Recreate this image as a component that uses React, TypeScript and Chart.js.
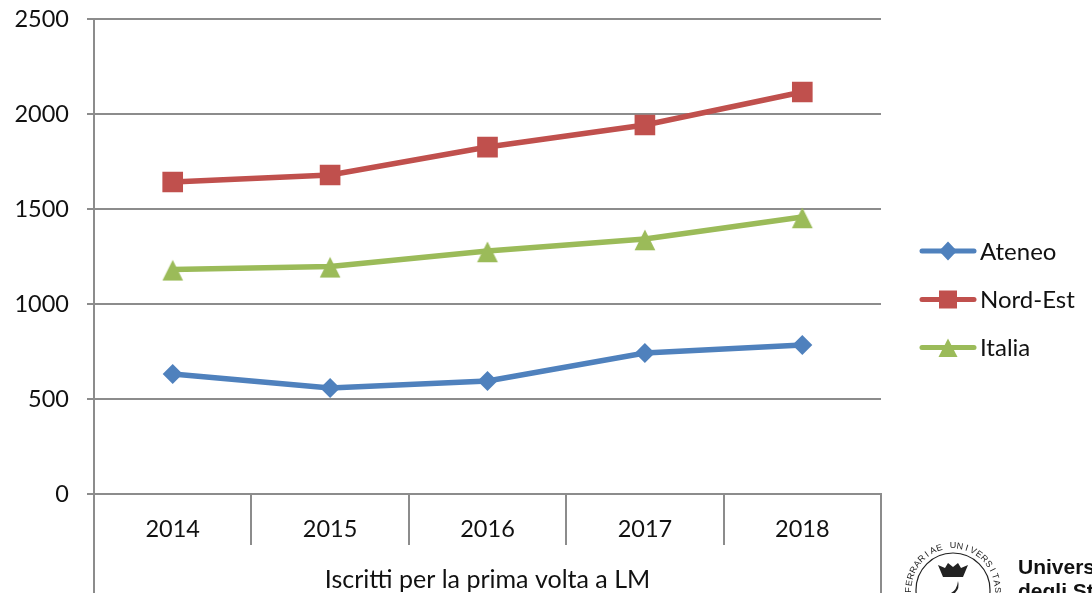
import React, { useEffect, useRef } from "react";
import { Chart, registerables } from "chart.js";

Chart.register(...registerables);

const categories = ["2014", "2015", "2016", "2017", "2018"];
const ateneo = [632, 558, 595, 742, 784];
const nordEst = [1642, 1679, 1826, 1942, 2116];
const italia = [1182, 1198, 1279, 1342, 1458];
const axisTitle = "Iscritti per la prima volta a LM";
const sealText = "FERRARIAE UNIVERSITAS";
const logoLines = ["Università", "degli Studi"];

const FONT = "Lato, 'Open Sans', sans-serif";
const AXIS = "#8c8c8c";
const GREEN = "#9BBB59";

function triangleMarker(color: string) {
  const c = document.createElement("canvas");
  c.width = 24;
  c.height = 24;
  const g = c.getContext("2d")!;
  g.fillStyle = color;
  g.beginPath();
  g.moveTo(12, 2.5);
  g.lineTo(22.4, 23.2);
  g.lineTo(1.6, 23.2);
  g.closePath();
  g.fill();
  return c;
}

const legendAndFrame = {
  id: "legendAndFrame",
  afterDraw(chart: any) {
    const { ctx, chartArea } = chart;
    ctx.save();
    ctx.strokeStyle = AXIS;
    ctx.lineWidth = 2;
    ctx.beginPath();
    ctx.moveTo(chartArea.left, chartArea.top);
    ctx.lineTo(chartArea.left, 593);
    ctx.moveTo(chartArea.right, chartArea.bottom);
    ctx.lineTo(chartArea.right, 593);
    ctx.stroke();

    const rows = [251, 299.5, 347.5];
    chart.data.datasets.forEach((ds: any, i: number) => {
      const y = rows[i];
      ctx.strokeStyle = ds.borderColor;
      ctx.lineWidth = 5;
      ctx.lineCap = "round";
      ctx.beginPath();
      ctx.moveTo(922, y);
      ctx.lineTo(974, y);
      ctx.stroke();
      ctx.fillStyle = ds.borderColor;
      ctx.beginPath();
      if (ds.pointStyle === "rectRot") {
        ctx.moveTo(948, y - 9.5);
        ctx.lineTo(957, y);
        ctx.lineTo(948, y + 9.5);
        ctx.lineTo(939, y);
        ctx.closePath();
      } else if (ds.pointStyle === "rect") {
        ctx.rect(939, y - 9, 18, 18);
      } else {
        ctx.moveTo(948, y - 9);
        ctx.lineTo(957.5, y + 9.5);
        ctx.lineTo(938.5, y + 9.5);
        ctx.closePath();
      }
      ctx.fill();
      ctx.fillStyle = "#111";
      ctx.font = `24px ${FONT}`;
      ctx.textAlign = "left";
      ctx.textBaseline = "middle";
      ctx.fillText(ds.label, 980, y + 1);
    });

    // university seal and wordmark, cut by the bottom of the page
    const cx = 953;
    const cy = 590;
    ctx.strokeStyle = "#222";
    ctx.lineWidth = 1.2;
    ctx.beginPath();
    ctx.arc(cx, cy, 37, 0, Math.PI * 2);
    ctx.stroke();
    ctx.fillStyle = "#222";
    ctx.font = `9px 'Liberation Sans', sans-serif`;
    ctx.textAlign = "center";
    ctx.textBaseline = "middle";
    const chars = sealText.split("");
    const step = Math.PI / 20;
    chars.forEach((ch, i) => {
      const a = -Math.PI / 2 + (i - (chars.length - 1) / 2) * step;
      ctx.save();
      ctx.translate(cx + Math.cos(a) * 44, cy + Math.sin(a) * 44);
      ctx.rotate(a + Math.PI / 2);
      ctx.fillText(ch, 0, 0);
      ctx.restore();
    });
    // crown
    ctx.beginPath();
    ctx.moveTo(938, 565);
    ctx.lineTo(945, 568);
    ctx.lineTo(948, 563);
    ctx.lineTo(953, 567);
    ctx.lineTo(958, 563);
    ctx.lineTo(961, 568);
    ctx.lineTo(968, 565);
    ctx.lineTo(963, 577);
    ctx.lineTo(943, 577);
    ctx.closePath();
    ctx.fill();
    ctx.beginPath();
    ctx.moveTo(958, 581);
    ctx.quadraticCurveTo(957, 590, 951, 593);
    ctx.lineTo(955, 593);
    ctx.quadraticCurveTo(960, 588, 958, 581);
    ctx.fill();
    ctx.fillStyle = "#111";
    ctx.font = `bold 21px 'Liberation Sans', sans-serif`;
    ctx.textAlign = "left";
    ctx.textBaseline = "alphabetic";
    ctx.fillText(logoLines[0], 1018, 574);
    ctx.fillText(logoLines[1], 1018, 598);
    ctx.restore();
  },
};

export default function App() {
  const ref = useRef<HTMLCanvasElement>(null);
  useEffect(() => {
    const mk = (label: string, data: number[], color: string, pointStyle: any, radius: number) => ({
      label,
      data,
      borderColor: color,
      backgroundColor: color,
      borderWidth: 5.5,
      pointStyle,
      pointRadius: radius,
      pointBorderWidth: 0,
      pointBackgroundColor: color,
      tension: 0,
      borderCapStyle: "round" as const,
    });
    const chart = new Chart(ref.current!, {
      type: "line",
      data: {
        labels: categories,
        datasets: [
          mk("Ateneo", ateneo, "#4F81BD", "rectRot", 10),
          mk("Nord-Est", nordEst, "#C0504D", "rect", 14.6),
          mk("Italia", italia, GREEN, triangleMarker(GREEN), 12),
        ],
      },
      options: {
        animation: false,
        responsive: false,
        layout: { padding: { top: 19, right: 211, left: 0, bottom: 0 } },
        plugins: { legend: { display: false }, title: { display: false }, tooltip: { enabled: false } },
        scales: {
          x: {
            offset: true,
            afterFit: (s: any) => { s.height = 99; s.paddingLeft = 0; s.paddingRight = 0; },
            grid: {
              offset: true,
              drawOnChartArea: false,
              color: AXIS,
              lineWidth: 2,
              tickLength: 51,
              tickColor: AXIS,
            },
            border: { color: AXIS, width: 2 },
            ticks: { color: "#111", font: { family: FONT, size: 23.5 }, padding: -30, maxRotation: 0 },
            title: {
              display: true,
              text: axisTitle,
              color: "#111",
              font: { family: FONT, size: 25 },
              padding: { top: 0, bottom: -2 },
            },
          },
          y: {
            min: 0,
            max: 2500,
            afterFit: (s: any) => { s.width = 94; s.paddingTop = 0; s.paddingBottom = 0; },
            grid: { color: AXIS, lineWidth: 2, tickLength: 7, tickColor: AXIS },
            border: { color: AXIS, width: 2 },
            ticks: {
              stepSize: 500,
              color: "#111",
              font: { family: FONT, size: 23.5 },
              padding: 18,
              callback: (v: any) => String(v),
            },
          },
        },
      },
      plugins: [legendAndFrame],
    });
    return () => chart.destroy();
  }, []);
  return (
    <div style={{ position: "fixed", left: 0, top: 0, width: 1092, height: 593, background: "#fff", overflow: "hidden" }}>
      <canvas ref={ref} width={1092} height={593} style={{ display: "block" }} />
    </div>
  );
}
